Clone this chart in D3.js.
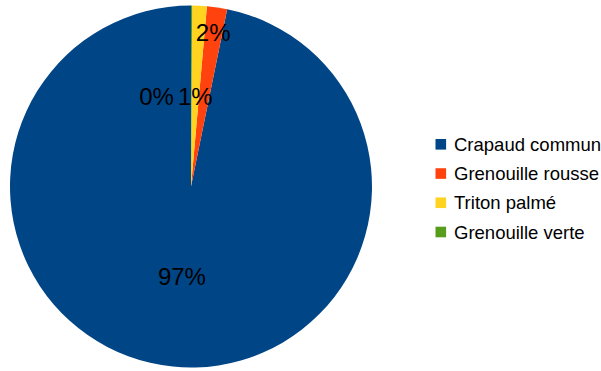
<!DOCTYPE html>
<html><head><meta charset="utf-8">
<script src="https://cdn.jsdelivr.net/npm/d3@7"></script>
<style>body{margin:0;background:#fff}svg{display:block}</style>
</head><body><svg id="c" width="601" height="371"></svg>
<script>
const categories = ["Crapaud commun", "Grenouille rousse", "Triton palmé", "Grenouille verte"];
const values = [967, 18, 13, 1];
const colors = ["#004586", "#ff420e", "#ffd320", "#579d1c"];

const svg = d3.select("#c");
const W = 601, H = 371;
const cx = 191, cy = 186.5, R = 181;
const total = d3.sum(values);
const data = categories.map((c, i) => ({cat: c, value: values[i], color: colors[i]}));

// LibreOffice draws counterclockwise starting at 12 o'clock
const pie = d3.pie().sort(null).value(d => d.value)
  .startAngle(2 * Math.PI).endAngle(0);
const arcs = pie(data);
const arc = d3.arc().innerRadius(0).outerRadius(R);

const g = svg.append("g").attr("transform", `translate(${cx},${cy})`);
g.selectAll("path").data(arcs).join("path")
  .attr("d", arc).attr("fill", d => d.data.color);

// labels
const fmt = v => Math.round(v / total * 100) + "%";
const fontSize = 24;
const labelArc = d3.arc().innerRadius(R * 0.5).outerRadius(R * 0.5);
const pos = arcs.map(a => labelArc.centroid(a));
// simple overlap resolution as in the reference: the label for the 2nd slice is pushed
// outward, the tiny last slice label is pushed left of its neighbour.
const ctx = document.createElement("canvas").getContext("2d");
ctx.font = `${fontSize}px "Liberation Sans", Arial, sans-serif`;
const widths = arcs.map(a => ctx.measureText(fmt(a.data.value)).width);
{
  const a = arcs[1];
  const mid = (a.startAngle + a.endAngle) / 2;
  const r = R * 0.85;
  pos[1] = [Math.sin(mid) * r, -Math.cos(mid) * r - 2];
  pos[3] = [pos[2][0] - (widths[2] + widths[3]) / 2 - 4, pos[2][1]];
}
g.selectAll("text.lbl").data(arcs).join("text")
  .attr("class", "lbl")
  .attr("x", (d, i) => pos[i][0])
  .attr("y", (d, i) => pos[i][1])
  .attr("text-anchor", "middle")
  .attr("dominant-baseline", "central")
  .attr("font-family", '"Liberation Sans", Arial, sans-serif')
  .attr("font-size", fontSize)
  .attr("fill", "#000")
  .text(d => fmt(d.data.value));

// legend
const legY = d3.scalePoint().domain(categories).range([144.3, 232]);
const leg = svg.append("g");
const items = leg.selectAll("g").data(data).join("g")
  .attr("transform", d => `translate(435.5,${legY(d.cat)})`);
items.append("rect").attr("x", 0).attr("y", -5.3).attr("width", 10.6).attr("height", 10.6)
  .attr("fill", d => d.color);
items.append("text").attr("x", 18.5).attr("y", 0)
  .attr("dominant-baseline", "central")
  .attr("font-family", '"Liberation Sans", Arial, sans-serif')
  .attr("font-size", 18.5).attr("fill", "#000")
  .text(d => d.cat);
</script></body></html>
